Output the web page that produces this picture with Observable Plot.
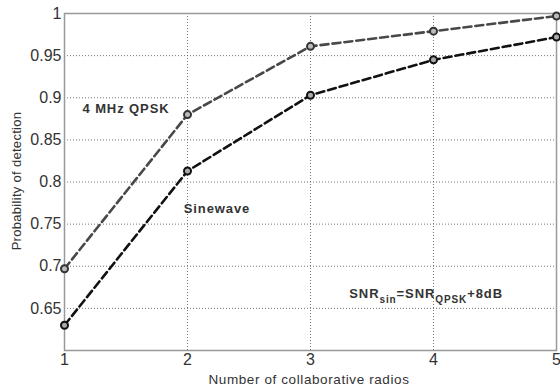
<!DOCTYPE html>
<html><head><meta charset="utf-8">
<script src="https://cdn.jsdelivr.net/npm/d3@7"></script>
<script src="https://cdn.jsdelivr.net/npm/@observablehq/plot@0.6"></script>
<style>body{margin:0;background:#fff}</style>
</head><body><div id="chart"></div>
<script>
const radios = [1, 2, 3, 4, 5];
const qpsk = [0.697, 0.880, 0.961, 0.979, 0.997];
const sinewave = [0.630, 0.813, 0.903, 0.945, 0.972];
const xTicks = [1, 2, 3, 4, 5];
const yTicks = [0.65, 0.7, 0.75, 0.8, 0.85, 0.9, 0.95, 1];

const qData = radios.map((r, i) => ({x: r, y: qpsk[i]}));
const sData = radios.map((r, i) => ({x: r, y: sinewave[i]}));
const labels = [
  {x: 1.50, y: 0.887, t: "4 MHz QPSK"},
  {x: 2.24, y: 0.768, t: "Sinewave"},
  {x: 3.94, y: 0.667, t: "SNR"}
];

const font = "Liberation Sans, Arial, sans-serif";
const plot = Plot.plot({
  width: 560, height: 389,
  marginLeft: 64, marginRight: 4, marginTop: 13, marginBottom: 39,
  style: {fontFamily: font, color: "#333", background: "#fff"},
  x: {domain: [1, 5]},
  y: {domain: [0.6, 1]},
  marks: [
    Plot.gridX(xTicks, {stroke: "#666", strokeOpacity: 0.9, strokeDasharray: "1,2"}),
    Plot.gridY(yTicks, {stroke: "#666", strokeOpacity: 0.9, strokeDasharray: "1,2"}),
    Plot.frame({stroke: "#999", strokeWidth: 1.5}),
    Plot.axisX({ticks: xTicks, tickFormat: d => d, tickSize: 0, tickPadding: 3, fontSize: 16, fill: "#333",
      label: null}),
    Plot.axisY({ticks: yTicks, tickFormat: d => String(+d.toFixed(2)), tickSize: 0, tickPadding: 3, fontSize: 16, fill: "#333",
      label: null}),
    Plot.line(qData, {x: "x", y: "y", stroke: "#484848", strokeWidth: 2.6, strokeDasharray: "8,4"}),
    Plot.line(sData, {x: "x", y: "y", stroke: "#111", strokeWidth: 2.6, strokeDasharray: "8,4"}),
    Plot.dot(qData, {x: "x", y: "y", r: 3.5, stroke: "#333", strokeWidth: 2, fill: "#bbb"}),
    Plot.dot(sData, {x: "x", y: "y", r: 3.5, stroke: "#111", strokeWidth: 2, fill: "#aaa"}),
    Plot.text(labels, {x: "x", y: "y", text: "t", fontWeight: "bold", fontSize: 13, fill: "#333", textAnchor: "middle", className: "annot"})
  ]
});
document.getElementById("chart").appendChild(plot);
const svg = d3.select(plot);
svg.selectAll("g.annot text").attr("letter-spacing", "0.9px").each(function() {
  const t = d3.select(this);
  if (t.text() === "SNR") {
    t.text(null);
    t.append("tspan").text("SNR");
    t.append("tspan").attr("dy", "5").attr("font-size", 10).text("sin");
    t.append("tspan").attr("dy", "-5").text("=SNR");
    t.append("tspan").attr("dy", "5").attr("font-size", 10).text("QPSK");
    t.append("tspan").attr("dy", "-5").text("+8dB");
  }
});
svg.append("text").attr("x", 309).attr("y", 380).attr("text-anchor", "middle").attr("dominant-baseline", "middle")
  .attr("font-size", 13.5).attr("letter-spacing", "0.6px").attr("fill", "#333").text("Number of collaborative radios");
svg.append("text").attr("transform", "translate(18,181) rotate(-90)").attr("text-anchor", "middle").attr("dominant-baseline", "middle")
  .attr("font-size", 13).attr("letter-spacing", "0.3px").attr("fill", "#333").text("Probability of detection");
</script></body></html>
